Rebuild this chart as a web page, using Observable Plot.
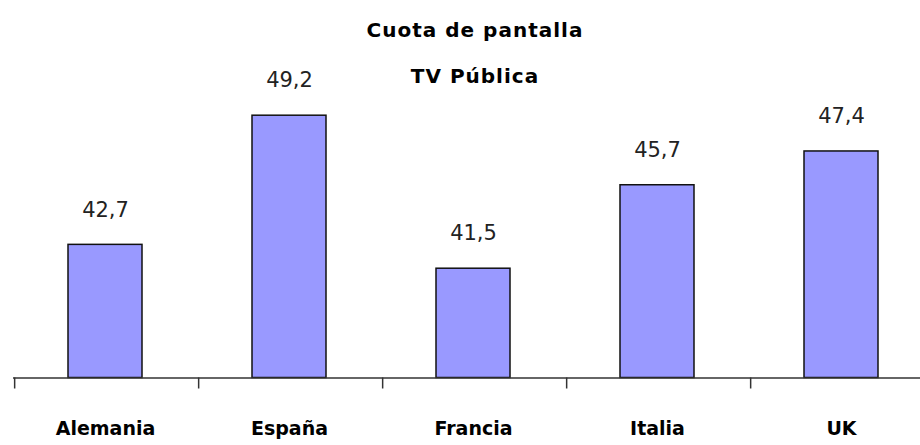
<!DOCTYPE html>
<html><head><meta charset="utf-8">
<script src="https://cdn.jsdelivr.net/npm/d3@7"></script>
<script src="https://cdn.jsdelivr.net/npm/@observablehq/plot@0.6"></script>
<style>
html,body{margin:0;padding:0;background:#fff;overflow:hidden;width:920px;height:445px}
#wrap{position:relative;width:920px;height:445px;overflow:hidden}
.t{position:absolute;left:14px;width:922px;text-align:center;font-family:"DejaVu Sans";font-weight:bold;font-size:20px;letter-spacing:1px;color:#000;line-height:24px}
g[aria-label="vals"] text{letter-spacing:2.5px}
g[aria-label="cats"] text{letter-spacing:1px}
</style></head><body>
<div id="wrap"><div id="chart"></div>
<div class="t" style="top:18px">Cuota de pantalla</div>
<div class="t" style="top:64px">TV Pública</div>
</div>
<script>
const categories = ["Alemania", "España", "Francia", "Italia", "UK"];
const values = [42.7, 49.2, 41.5, 45.7, 47.4];
const yDomain = [36, 50];

const data = categories.map((c, i) => ({c, v: values[i]}));
const fmt = d3.formatLocale({decimal: ",", thousands: ".", grouping: [3], currency: ["", "€"]}).format(".1f");

const W = 937, H = 445, mL = 13, mR = 0.5, mB = 67.5, mT = 99.3;
const step = (W - mL - mR) / categories.length;

const chart = Plot.plot({
  width: W, height: H,
  marginLeft: mL, marginRight: mR, marginTop: mT, marginBottom: mB,
  style: {maxWidth: "none", background: "#fff", overflow: "visible"},
  x: {domain: categories, paddingInner: 0.596, paddingOuter: 0.298, align: 0.49, axis: null},
  y: {domain: yDomain, axis: null},
  marks: [
    Plot.barY(data, {x: "c", y1: yDomain[0], y2: "v", fill: "#9999ff", stroke: "#111", strokeWidth: 1.5}),
    Plot.ruleY([yDomain[0]], {stroke: "#333", strokeWidth: 1.5}),
    Plot.ruleX(categories, {x: d => d, dx: -step / 2 + 1.5, y1: yDomain[0], y2: yDomain[0], insetBottom: -11, stroke: "#333", strokeWidth: 1.5}),
    Plot.text(data, {x: "c", y: "v", text: d => fmt(d.v), dy: -35, fontSize: 21, fontFamily: "DejaVu Sans", fill: "#222", ariaLabel: "vals"}),
    Plot.text(categories, {x: d => d, text: d => d, frameAnchor: "bottom", dy: 57, fontSize: 19, fontWeight: "bold", fontFamily: "DejaVu Sans", fill: "#000", ariaLabel: "cats"})
  ]
});
document.getElementById("chart").appendChild(chart);
</script>
</body></html>
